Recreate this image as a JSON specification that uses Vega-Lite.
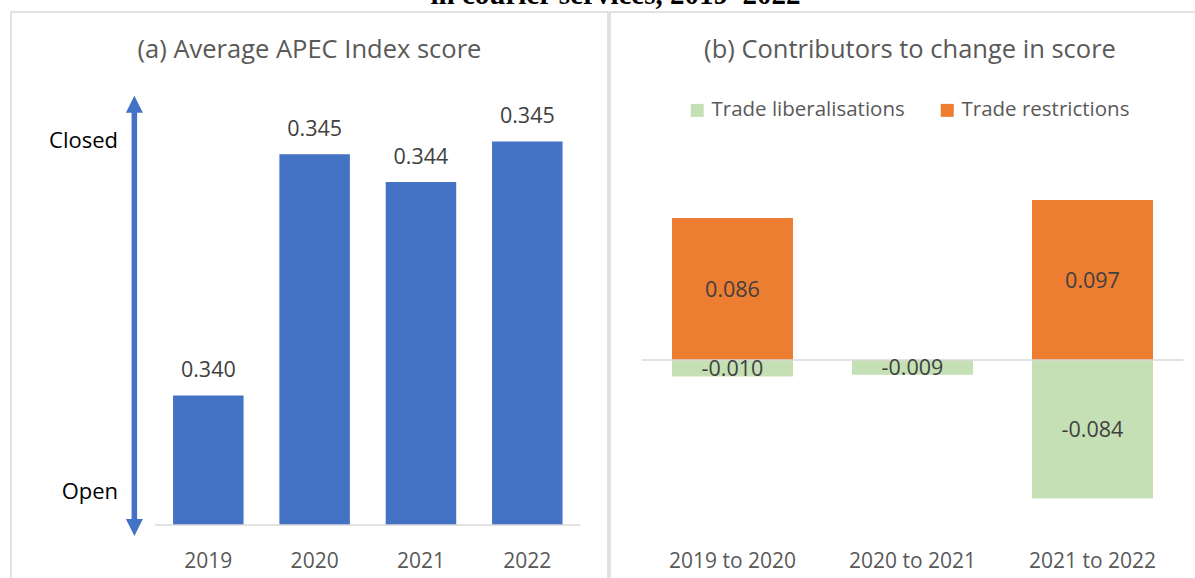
{
  "$schema": "https://vega.github.io/schema/vega-lite/v6.json",
  "padding": {"left": 10, "top": -19, "right": 0, "bottom": 0},
  "spacing": 0,
  "title": {"text": "in courier services, 2019–2022", "font": "Liberation Serif", "fontSize": 29, "fontWeight": "bold", "color": "#000000", "offset": 1, "anchor": "middle", "dx": 11},
  "config": {
    "view": {"stroke": "#D9D9D9", "strokeWidth": 1.5},
    "font": "Open Sans",
    "locale": {"number": {"decimal": ".", "thousands": ",", "grouping": [3], "currency": ["$", ""], "minus": "-"}},
    "axis": {"labelFont": "Open Sans"},
    "legend": {"labelFont": "Open Sans"}
  },
  "hconcat": [
    {
      "width": 597,
      "height": 567,
      "title": {"text": "(a) Average APEC Index score", "font": "Open Sans", "fontSize": 25.5, "fontWeight": "normal", "color": "#595959", "offset": -51},
      "data": {"values": [
        {"year": "2019", "score": 0.3402},
        {"year": "2020", "score": 0.34495},
        {"year": "2021", "score": 0.3444},
        {"year": "2022", "score": 0.3452}
      ]},
      "layer": [
        {
          "mark": {"type": "bar", "color": "#4472C4"},
          "encoding": {
            "x": {"field": "year", "type": "ordinal", "scale": {"paddingInner": 0.337, "paddingOuter": 0.9757, "align": 0.781},
                  "axis": {"title": null, "domain": false, "ticks": false, "labelPadding": 0, "offset": -29, "labelFontSize": 21, "labelColor": "#595959", "labelAngle": 0}},
            "y": {"field": "score", "type": "quantitative", "scale": {"domain": [0.336587, 0.347748], "nice": false, "zero": false}, "axis": null},
            "y2": {"datum": 0.33765}
          }
        },
        {
          "mark": {"type": "text", "baseline": "alphabetic", "dy": -18, "fontSize": 21.5, "color": "#404040"},
          "encoding": {
            "x": {"field": "year", "type": "ordinal"},
            "y": {"field": "score", "type": "quantitative"},
            "text": {"field": "score", "type": "quantitative", "format": ".3f"}
          }
        },
        {
          "data": {"values": [{}]},
          "mark": {"type": "rule", "color": "#D9D9D9", "strokeWidth": 1.5},
          "encoding": {
            "x": {"datum": "2019", "bandPosition": -0.254},
            "x2": {"datum": "2022", "bandPosition": 1.254},
            "y": {"datum": 0.33765}
          }
        },
        {
          "data": {"values": [{}]},
          "mark": {"type": "rule", "color": "#4472C4", "strokeWidth": 5.5},
          "encoding": {
            "x": {"datum": "2019", "bandPosition": -0.549},
            "y": {"datum": 0.34593},
            "y2": {"datum": 0.33760}
          }
        },
        {
          "data": {"values": [{}]},
          "mark": {"type": "point", "shape": "M0,-1L1,1L-1,1Z", "size": 289, "filled": true, "color": "#4472C4", "opacity": 1},
          "encoding": {
            "x": {"datum": "2019", "bandPosition": -0.549},
            "y": {"datum": 0.34593}
          }
        },
        {
          "data": {"values": [{}]},
          "mark": {"type": "point", "shape": "M0,1L1,-1L-1,-1Z", "size": 289, "filled": true, "color": "#4472C4", "opacity": 1},
          "encoding": {
            "x": {"datum": "2019", "bandPosition": -0.549},
            "y": {"datum": 0.33760}
          }
        },
        {
          "data": {"values": [{}]},
          "mark": {"type": "text", "align": "right", "baseline": "middle", "fontSize": 22, "color": "#000000"},
          "encoding": {
            "x": {"datum": "2019", "bandPosition": -0.78},
            "y": {"datum": 0.345209},
            "text": {"value": "Closed"}
          }
        },
        {
          "data": {"values": [{}]},
          "mark": {"type": "text", "align": "right", "baseline": "middle", "fontSize": 22, "color": "#000000"},
          "encoding": {
            "x": {"datum": "2019", "bandPosition": -0.78},
            "y": {"datum": 0.33829},
            "text": {"value": "Open"}
          }
        }
      ]
    },
    {
      "width": 588,
      "height": 567,
      "title": {"text": "(b) Contributors to change in score", "font": "Open Sans", "fontSize": 25.5, "fontWeight": "normal", "color": "#595959", "offset": -51, "dx": 6},
      "data": {"values": [
        {"period": "2019 to 2020", "type": "Trade liberalisations", "value": -0.010},
        {"period": "2019 to 2020", "type": "Trade restrictions", "value": 0.086},
        {"period": "2020 to 2021", "type": "Trade liberalisations", "value": -0.009},
        {"period": "2021 to 2022", "type": "Trade liberalisations", "value": -0.084},
        {"period": "2021 to 2022", "type": "Trade restrictions", "value": 0.097}
      ]},
      "layer": [
        {
          "mark": {"type": "bar"},
          "encoding": {
            "x": {"field": "period", "type": "ordinal", "scale": {"paddingInner": 0.3278, "paddingOuter": 0.2972, "align": 0.5794},
                  "axis": {"title": null, "domain": false, "ticks": false, "labelPadding": 0, "offset": -29, "labelFontSize": 21, "labelColor": "#595959", "labelAngle": 0}},
            "y": {"field": "value", "type": "quantitative", "stack": "zero", "scale": {"domain": [-0.132727, 0.210909], "nice": false, "zero": false}, "axis": null},
            "color": {"field": "type", "type": "nominal",
                      "scale": {"domain": ["Trade liberalisations", "Trade restrictions"], "range": ["#C5E0B4", "#ED7D31"]},
                      "legend": {"orient": "none", "legendX": 676, "legendY": 88, "direction": "horizontal", "title": null, "symbolType": "square", "symbolSize": 169, "symbolStrokeWidth": 0, "symbolOpacity": 1, "labelFontSize": 20.5, "labelColor": "#595959", "labelLimit": 400, "columnPadding": 32, "labelOffset": 4}}
          }
        },
        {
          "data": {"values": [{}]},
          "mark": {"type": "rule", "color": "#D9D9D9", "strokeWidth": 1.5},
          "encoding": {
            "x": {"datum": "2019 to 2020", "bandPosition": -0.25},
            "x2": {"datum": "2021 to 2022", "bandPosition": 1.25},
            "y": {"datum": 0}
          }
        },
        {
          "mark": {"type": "text", "baseline": "middle", "dy": 2, "fontSize": 21.5, "color": "#404040"},
          "encoding": {
            "x": {"field": "period", "type": "ordinal"},
            "y": {"field": "value", "type": "quantitative", "stack": "zero", "bandPosition": 0.5},
            "detail": {"field": "type", "type": "nominal"},
            "text": {"field": "value", "type": "quantitative", "format": ".3f"}
          }
        }
      ]
    }
  ]
}
